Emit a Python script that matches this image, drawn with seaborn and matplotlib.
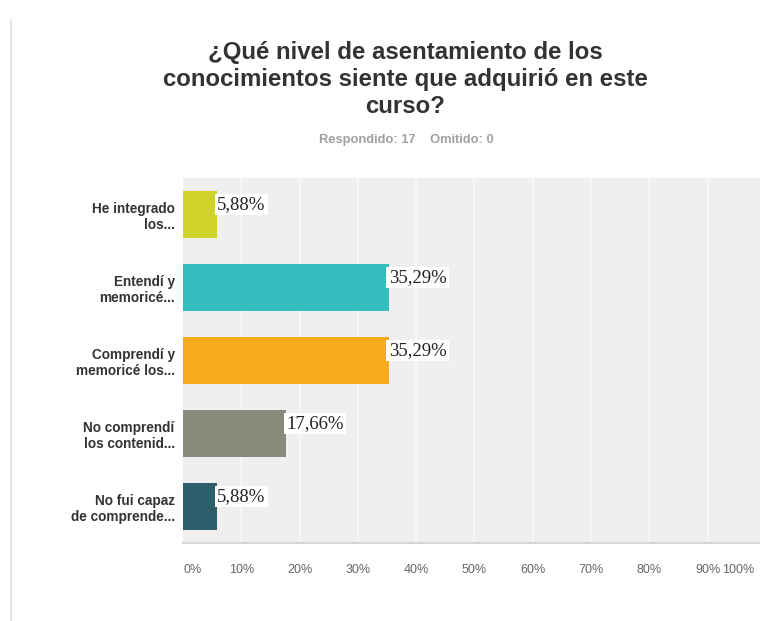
import matplotlib
matplotlib.use("Agg")
import matplotlib.pyplot as plt
import matplotlib.transforms as mtransforms
import seaborn as sns
import pandas as pd
from matplotlib.lines import Line2D

categories = [
    "He integrado\nlos...",
    "Entendí y\nmemoricé...",
    "Comprendí y\nmemoricé los...",
    "No comprendí\nlos contenid...",
    "No fui capaz\nde comprende...",
]
values = [5.88, 35.29, 35.29, 17.66, 5.88]
bar_colors = ["#cfd22b", "#33bdbd", "#f6ab1f", "#8a8a7a", "#2d5e6b"]
tick_values = [0, 10, 20, 30, 40, 50, 60, 70, 80, 90, 100]
tick_labels = [f"{t}%" for t in tick_values]
title_lines = [
    "¿Qué nivel de asentamiento de los",
    "conocimientos siente que adquirió en este",
    "curso?",
]
subtitle = "Respondido: 17    Omitido: 0"

sns.set_theme(style="white")
plt.rcParams["font.family"] = ["Liberation Sans", "DejaVu Sans"]

df = pd.DataFrame({"respuesta": categories, "porcentaje": values})

W, H = 760, 621
fig = plt.figure(figsize=(W / 100, H / 100), dpi=100)
ax = fig.add_axes([183 / W, 1 - 543 / H, (766 - 183) / W, (543 - 178) / H])
ax.set_facecolor("#efefef")

sns.barplot(data=df, x="porcentaje", y="respuesta", hue="respuesta",
            palette=bar_colors, legend=False, width=0.64, saturation=1,
            orient="h", ax=ax, zorder=3, linewidth=0)

ax.set_xlim(0, 100)
ax.set_ylim(4.5, -0.5)
ax.set_xticks(tick_values)
ax.set_xticklabels(tick_labels)
for t in tick_values[1:-1]:
    ax.axvline(t, color="#f7f7f7", lw=1.5, zorder=1)

for spine in ax.spines.values():
    spine.set_visible(False)
ax.add_line(Line2D([0, 1], [0, 0], transform=ax.transAxes, color="#d6d6d6",
                   lw=1.6, zorder=4, clip_on=False))

ax.set_xlabel("")
ax.set_ylabel("")
ax.tick_params(axis="x", length=0, pad=15, labelsize=9, labelcolor="#666666")
ax.tick_params(axis="y", length=0, pad=6, labelsize=9.8, labelcolor="#333333")
for lab in ax.get_yticklabels():
    lab.set_fontweight("bold")
    lab.set_horizontalalignment("right")
    lab.set_multialignment("right")
    lab.set_linespacing(1.15)

# first tick label starts at the axis edge, last one is pulled inside the figure
xl = ax.get_xticklabels()
xl[0].set_horizontalalignment("left")
xl[-1].set_horizontalalignment("right")
xl[-1].set_transform(xl[-1].get_transform()
                     + mtransforms.ScaledTranslation(-12 / 100, 0, fig.dpi_scale_trans))

# value labels sit just right of each bar, on a white box level with the bar top
for i, v in enumerate(values):
    label = f"{v:.2f}".replace(".", ",") + "%"
    ax.annotate(label, xy=(v, i - 0.32), xytext=(0, -13), textcoords="offset points",
                ha="left", va="baseline", fontsize=13.5, color="#222222",
                family=["Liberation Serif", "DejaVu Serif"], zorder=5,
                bbox=dict(boxstyle="square,pad=0.12", fc="white", ec="none"))

for k, line in enumerate(title_lines):
    fig.text(405 / W, 1 - (59 + 27 * k) / H, line, ha="center", va="baseline",
             fontsize=17.3, fontweight="bold", color="#333333")
fig.text(406 / W, 1 - 143 / H, subtitle, ha="center", va="baseline",
         fontsize=9.3, fontweight="bold", color="#a0a0a0")

fig.add_artist(Line2D([11 / W, 11 / W], [0, 1 - 20 / H], transform=fig.transFigure,
                      color="#e2e2e2", lw=1.2))

fig.savefig("out.png", dpi=100, facecolor="white")
